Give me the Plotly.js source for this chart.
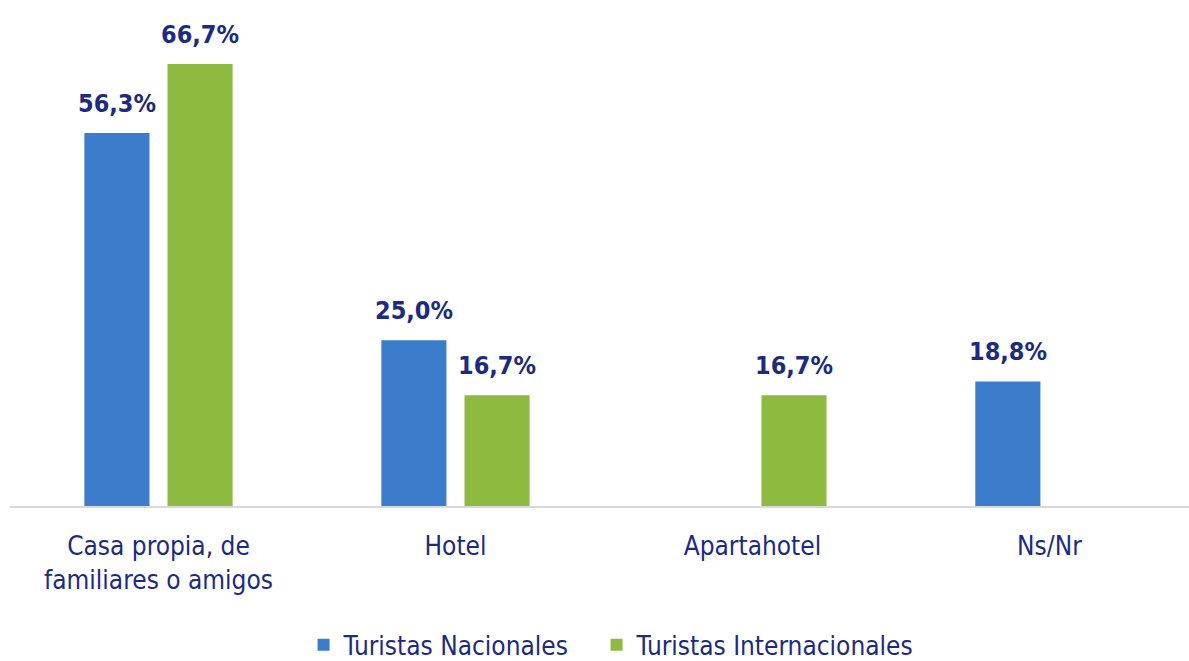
<!DOCTYPE html>
<html>
<head>
<meta charset="utf-8">
<script src="https://cdn.plot.ly/plotly-3.0.1.min.js"></script>
<style>html,body{margin:0;padding:0;background:#fff;}#chart{width:1189px;height:661px;}</style>
</head>
<body>
<div id="chart"></div>
<script>
const categories = ["Casa propia, de<br>familiares o amigos", "Hotel", "Apartahotel", "Ns/Nr"];
const nacionales = [56.3, 25.0, null, 18.8];
const internacionales = [66.7, 16.7, 16.7, null];
const seriesNames = ["Turistas Nacionales", "Turistas Internacionales"];

const FONT = "DejaVu Sans Condensed, Liberation Sans Narrow, sans-serif";
const NAVY = "#1c2a80";
const BLUE = "#3b7dca";
const GREEN = "#8dba41";

const xIdx = categories.map((c, i) => i);

const traces = [
  {type: "bar", name: seriesNames[0], x: xIdx, y: nacionales, marker: {color: BLUE}, hoverinfo: "skip", legend: "legend"},
  {type: "bar", name: seriesNames[1], x: xIdx, y: internacionales, marker: {color: GREEN}, hoverinfo: "skip", legend: "legend2"}
];

const annotations = [];
const OFF = 41.5;
[nacionales, internacionales].forEach((arr, s) => {
  arr.forEach((v, i) => {
    if (v === null) return;
    annotations.push({
      x: i, y: v, xref: "x", yref: "y",
      text: v.toFixed(1).replace(".", ",") + "%",
      showarrow: false, yanchor: "bottom", xanchor: "center",
      xshift: s === 0 ? -OFF : OFF, yshift: 13,
      font: {family: FONT, size: 25, color: NAVY, weight: "bold"}
    });
  });
});

const legendBase = {orientation: "h", xanchor: "left", y: 0.06, yref: "container", yanchor: "top",
                    font: {family: FONT, size: 26, color: NAVY}, itemwidth: 30, bgcolor: "rgba(0,0,0,0)"};

const layout = {
  width: 1189, height: 661,
  margin: {l: 10, r: 0, t: 0, b: 155},
  paper_bgcolor: "#fff", plot_bgcolor: "#fff",
  barmode: "group", bargap: 0.44, bargroupgap: 0.217,
  showlegend: true,
  legend: Object.assign({}, legendBase, {x: 0.249}),
  legend2: Object.assign({}, legendBase, {x: 0.4975}),
  xaxis: {
    tickmode: "array", tickvals: xIdx, ticktext: categories,
    range: [-0.5, 3.47], showgrid: false, zeroline: false,
    showline: true, linecolor: "#d9d9d9", linewidth: 2,
    ticks: "", ticklabelstandoff: 16,
    tickfont: {family: FONT, size: 26, color: NAVY}
  },
  yaxis: {range: [0, 76.35], visible: false, showgrid: false, zeroline: false},
  annotations: annotations
};

Plotly.newPlot("chart", traces, layout, {displayModeBar: false, staticPlot: true});
</script>
</body>
</html>
